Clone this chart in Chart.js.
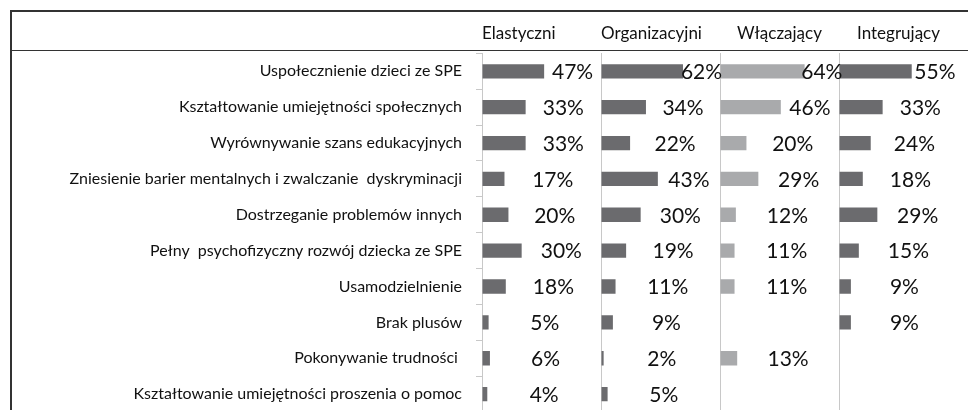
<!DOCTYPE html>
<html>
<head>
<meta charset="utf-8">
<script src="https://cdn.jsdelivr.net/npm/chart.js@4.4.1/dist/chart.umd.min.js"></script>
<style>
  html, body { margin: 0; padding: 0; background: #fff; overflow: hidden; }
  #wrap { position: relative; width: 968px; height: 410px; overflow: hidden; }
  #box { position: absolute; left: 0; top: 0; width: 968px; height: 412px; }
  .rule { position: absolute; background: #333; }
</style>
</head>
<body>
<div id="wrap">
  <div id="box"><canvas id="c"></canvas></div>
  <div class="rule" style="left:10px; top:10px; width:958px; height:1.5px;"></div>
  <div class="rule" style="left:10px; top:49.5px; width:958px; height:1.5px;"></div>
  <div class="rule" style="left:10px; top:10px; width:1.5px; height:400px;"></div>
</div>
<script>
const categories = [
  'Uspołecznienie dzieci ze SPE',
  'Kształtowanie umiejętności społecznych',
  'Wyrównywanie szans edukacyjnych',
  'Zniesienie barier mentalnych i zwalczanie  dyskryminacji',
  'Dostrzeganie problemów innych',
  'Pełny  psychofizyczny rozwój dziecka ze SPE',
  'Usamodzielnienie',
  'Brak plusów',
  'Pokonywanie trudności ',
  'Kształtowanie umiejętności proszenia o pomoc'
];
const seriesNames = ['Elastyczni', 'Organizacyjni', 'Włączający', 'Integrujący'];
const elastyczni    = [47, 33, 33, 17, 20, 30, 18, 5, 6, 4];
const organizacyjni = [62, 34, 22, 43, 30, 19, 11, 9, 2, 5];
const wlaczajacy    = [64, 46, 20, 29, 12, 11, 11, null, 13, null];
const integrujacy   = [55, 33, 24, 18, 29, 15, 9, 9, null, null];
const seriesValues = [elastyczni, organizacyjni, wlaczajacy, integrujacy];
const seriesColors = ['#6b6b6e', '#6b6b6e', '#a9aaac', '#6b6b6e'];
const titleAlign = ['start', 'start', 'center', 'center'];
const axisMax = 90;

const FONT = 'Lato';
const TEXT = '#111111';
const LINE = '#c8c8c8';

const datasets = seriesValues.map((vals, i) => ({
  label: seriesNames[i],
  data: vals,
  xAxisID: 'x' + i,
  backgroundColor: seriesColors[i],
  borderWidth: 0,
  grouped: false,
  categoryPercentage: 1,
  barPercentage: 0.4
}));

const scales = {
  y: {
    type: 'category',
    position: 'left',
    afterFit: s => { s.width = 472; s.paddingTop = 0; s.paddingBottom = 0; },
    grid: { offset: true, drawOnChartArea: false, drawTicks: true, tickLength: 6, color: LINE },
    border: { display: true, color: LINE },
    ticks: { color: TEXT, padding: 14, font: { family: FONT, size: 16 }, autoSkip: false }
  }
};
// top-positioned stacked axes are laid out in reverse order, so add them last-first
for (let i = seriesNames.length - 1; i >= 0; i--) {
  scales['x' + i] = {
    type: 'linear',
    position: 'top',
    stack: 'panels',
    stackWeight: 1,
    min: 0,
    max: axisMax,
    afterFit: s => { s.paddingLeft = 0; s.paddingRight = 0; },
    ticks: { display: false, stepSize: axisMax },
    grid: {
      drawTicks: false,
      color: c => (c.tick && c.tick.value === 0) ? LINE : 'rgba(0,0,0,0)'
    },
    border: { display: false },
    title: {
      display: true,
      text: seriesNames[i],
      align: titleAlign[i],
      color: TEXT,
      font: { family: FONT, size: 17 },
      padding: { top: 13, bottom: 10 }
    }
  };
}

const valueLabels = {
  id: 'valueLabels',
  afterDatasetsDraw(chart) {
    const ctx = chart.ctx;
    ctx.save();
    ctx.fillStyle = TEXT;
    ctx.font = '21px ' + FONT;
    ctx.textAlign = 'center';
    ctx.textBaseline = 'middle';
    chart.data.datasets.forEach((ds, i) => {
      const meta = chart.getDatasetMeta(i);
      const scale = chart.scales[ds.xAxisID];
      meta.data.forEach((el, j) => {
        const v = ds.data[j];
        if (v === null || v === undefined) return;
        const x = (el.x + scale.right) / 2;
        ctx.fillText(v + '%', x, el.y + 1);
      });
    });
    ctx.restore();
  }
};

new Chart(document.getElementById('c'), {
  type: 'bar',
  data: { labels: categories, datasets },
  options: {
    indexAxis: 'y',
    responsive: true,
    maintainAspectRatio: false,
    animation: false,
    layout: { padding: { left: 10, top: 10, right: 10, bottom: 0 } },
    plugins: { legend: { display: false }, tooltip: { enabled: false } },
    scales
  },
  plugins: [valueLabels]
});
</script>
</body>
</html>
